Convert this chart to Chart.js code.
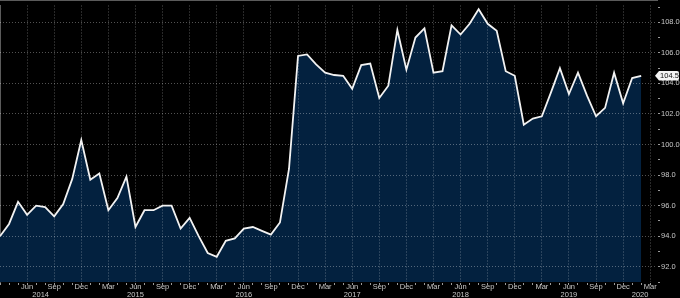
<!DOCTYPE html>
<html>
<head>
<meta charset="utf-8">
<script src="https://cdn.jsdelivr.net/npm/chart.js@4/dist/chart.umd.min.js"></script>
<style>
  html, body { margin: 0; padding: 0; background: #000; }
  canvas { display: block; }
</style>
</head>
<body>
<canvas id="c" width="680" height="298"></canvas>
<script>
// ---- data ----
const months = [
  '2014-03','2014-04','2014-05','2014-06','2014-07','2014-08','2014-09','2014-10','2014-11','2014-12',
  '2015-01','2015-02','2015-03','2015-04','2015-05','2015-06','2015-07','2015-08','2015-09','2015-10','2015-11','2015-12',
  '2016-01','2016-02','2016-03','2016-04','2016-05','2016-06','2016-07','2016-08','2016-09','2016-10','2016-11','2016-12',
  '2017-01','2017-02','2017-03','2017-04','2017-05','2017-06','2017-07','2017-08','2017-09','2017-10','2017-11','2017-12',
  '2018-01','2018-02','2018-03','2018-04','2018-05','2018-06','2018-07','2018-08','2018-09','2018-10','2018-11','2018-12',
  '2019-01','2019-02','2019-03','2019-04','2019-05','2019-06','2019-07','2019-08','2019-09','2019-10','2019-11','2019-12',
  '2020-01','2020-02'
];
const values = [
  94.0, 94.8, 96.25, 95.4, 96.0, 95.9, 95.3, 96.1, 97.75, 100.3,
  97.7, 98.1, 95.7, 96.5, 97.9, 94.6, 95.7, 95.7, 96.0, 96.0, 94.5, 95.2,
  94.0, 92.9, 92.65, 93.7, 93.85, 94.5, 94.6, 94.35, 94.1, 94.9, 98.4, 105.8,
  105.9, 105.25, 104.7, 104.55, 104.5, 103.65, 105.2, 105.3, 103.05, 103.85, 107.5, 104.9,
  107.0, 107.6, 104.7, 104.8, 107.8, 107.2, 107.9, 108.85, 107.9, 107.45, 104.8, 104.5,
  101.3, 101.7, 101.85, 103.4, 105.0, 103.3, 104.7, 103.2, 101.85, 102.4, 104.7, 102.7,
  104.35, 104.5
];
const monthAbbr = ['Jan','Feb','Mar','Apr','May','Jun','Jul','Aug','Sep','Oct','Nov','Dec'];
const yearLabels = ['2014','2015','2016','2017','2018','2019','2020'];
const axisEndMonth = '2020-03';
const yMin = 91.0, yMax = 109.1;
const lastValueLabel = '104.5';

// ---- helpers ----
const [y0, m0] = months[0].split('-').map(Number);
const monthIndex = (s) => { const [y, m] = s.split('-').map(Number); return (y - y0) * 12 + (m - m0); };
const xMax = monthIndex(axisEndMonth) + 0.75;
const points = values.map((v, i) => ({ x: monthIndex(months[i]), y: v }));
const labelOf = (i) => monthAbbr[(m0 - 1 + i) % 12];
const isQuarter = (i) => ['Mar','Jun','Sep','Dec'].includes(labelOf(i));

const TEXT = '#c9c9c9';
const GRID = 'rgba(255,255,255,0.32)';
const FONT = '"Liberation Sans", Arial, sans-serif';

const overlay = {
  id: 'overlay',
  afterDraw(chart) {
    const { ctx, chartArea, scales: { x, y } } = chart;
    ctx.save();
    ctx.font = '7.5px ' + FONT;
    ctx.fillStyle = TEXT;
    ctx.textAlign = 'center';
    ctx.textBaseline = 'middle';
    // month labels
    for (let i = 1; i <= Math.floor(xMax); i++) {
      if (isQuarter(i)) ctx.fillText(labelOf(i), x.getPixelForValue(i), chartArea.bottom + 5);
    }
    // year labels centred on Dec-to-Dec spans (clipped to axis)
    yearLabels.forEach((yr) => {
      const decPrev = monthIndex((+yr - 1) + '-12');
      const dec = monthIndex(yr + '-12');
      const a = Math.max(0, decPrev), b = Math.min(xMax, dec);
      ctx.fillText(yr, x.getPixelForValue((a + b) / 2), chartArea.bottom + 13);
    });
    // last value tag
    const yp = y.getPixelForValue(values[values.length - 1]);
    const L = chartArea.right - 2, R = chart.width - 3, h = 4.8;
    ctx.beginPath();
    ctx.moveTo(L, yp);
    ctx.lineTo(L + 4, yp - h);
    ctx.lineTo(R, yp - h);
    ctx.quadraticCurveTo(R + 2, yp - h, R + 2, yp - h + 2);
    ctx.lineTo(R + 2, yp + h - 2);
    ctx.quadraticCurveTo(R + 2, yp + h, R, yp + h);
    ctx.lineTo(L + 4, yp + h);
    ctx.closePath();
    ctx.fillStyle = '#f4f4f4';
    ctx.fill();
    ctx.fillStyle = '#111';
    ctx.fillText(lastValueLabel, (L + 4 + R + 2) / 2 + 0.5, yp + 0.5);
    ctx.restore();
  }
};

new Chart(document.getElementById('c'), {
  type: 'line',
  data: {
    datasets: [{
      data: points,
      borderColor: '#f2f2f2',
      borderWidth: 1.8,
      backgroundColor: '#03213f',
      fill: 'start',
      pointRadius: 0,
      tension: 0
    }]
  },
  options: {
    responsive: false,
    animation: false,
    layout: { padding: 0 },
    plugins: { legend: { display: false }, tooltip: { enabled: false } },
    scales: {
      x: {
        type: 'linear',
        min: 0,
        max: xMax,
        afterBuildTicks: (s) => {
          const t = [];
          for (let i = 0; i <= Math.floor(xMax); i++) t.push({ value: i });
          s.ticks = t;
        },
        afterFit: (s) => { s.height = 16; },
        ticks: { display: false, autoSkip: false },
        grid: {
          z: 1,
          color: (c) => (c.tick && c.tick.value > 0 && isQuarter(c.tick.value)) ? GRID : 'rgba(0,0,0,0)',
          tickColor: '#9a9a9a',
          tickLength: 3,
          lineWidth: 1
        },
        border: { display: true, color: '#b5b5b5', width: 1, dash: [1, 2] }
      },
      y: {
        position: 'right',
        min: yMin,
        max: yMax,
        afterBuildTicks: (s) => {
          const t = [];
          for (let v = Math.ceil(yMin); v <= Math.floor(yMax); v++) t.push({ value: v });
          s.ticks = t;
        },
        afterFit: (s) => { s.width = 23; },
        ticks: {
          autoSkip: false,
          color: TEXT,
          font: { size: 7.5, family: FONT },
          padding: 1,
          callback: (v) => (v % 2 === 0 ? Number(v).toFixed(1) : '')
        },
        grid: {
          z: 1,
          color: (c) => (c.tick && c.tick.value % 2 === 0) ? GRID : 'rgba(0,0,0,0)',
          tickColor: '#9a9a9a',
          tickLength: 3,
          lineWidth: 1
        },
        border: { display: true, color: '#b5b5b5', width: 1, dash: [1, 2] }
      }
    }
  },
  plugins: [overlay]
});
</script>
</body>
</html>
